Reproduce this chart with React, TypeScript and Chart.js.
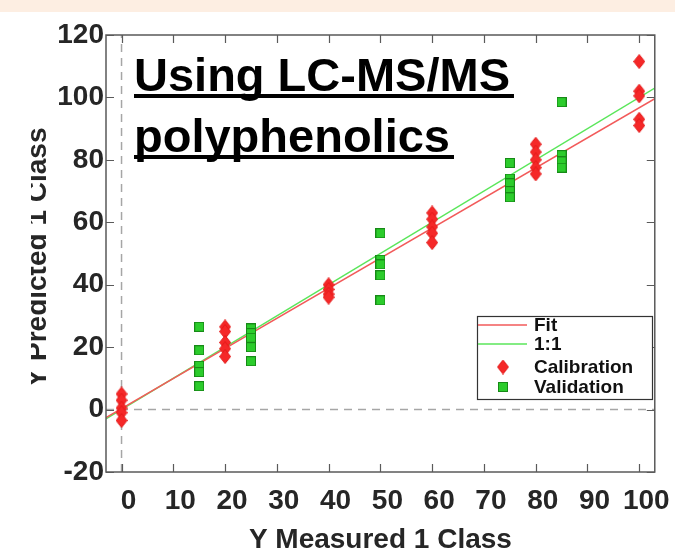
import React, { useEffect, useRef } from "react";
import { Chart, registerables } from "chart.js";
Chart.register(...registerables);

const xTickValues = [0, 10, 20, 30, 40, 50, 60, 70, 80, 90, 100];
const yTickValues = [-20, 0, 20, 40, 60, 80, 100, 120];

const calibrationX = [0, 0, 0, 0, 0, 20, 20, 20, 20, 20, 40, 40, 40, 40, 60, 60, 60, 60, 60, 80, 80, 80, 80, 80, 100, 100, 100, 100, 100];
const calibrationY = [5, 3, 0.5, -1, -3.5, 26.5, 25, 21.5, 19.5, 17, 40, 38.5, 37, 36, 63, 61, 58.5, 56.5, 53.5, 85, 82.5, 80, 77.5, 75.5, 111.5, 102, 100.5, 93, 91];

const validationX = [15, 15, 15, 15, 15, 25, 25, 25, 25, 25, 50, 50, 50, 50, 50, 75, 75, 75, 75, 75, 85, 85, 85, 85];
const validationY = [26.5, 19, 14, 12, 7.5, 26, 24.5, 23, 20, 15.5, 56.5, 48, 46.5, 43, 35, 79, 74, 72.5, 70, 68, 98.5, 81.5, 79.5, 77.5];

const fitX = [-3, 103];
const fitY = [-2.6, 99.6];
const unityX = [-3, 103];
const unityY = [-3, 103];

const zeroVX = [0, 0];
const zeroVY = [-20, 120];
const zeroHX = [-3, 103];
const zeroHY = [0, 0];

const legendLabels = ["Fit", "1:1", "Calibration", "Validation"];
const titleLines = ["Using LC-MS/MS", "polyphenolics"];
const xTitle = "Y Measured 1 Class";
const yTitle = "Y Predicted 1 Class";

const FONT = '"Liberation Sans", Arial, sans-serif';
const RED_LINE = "#f25a5a";
const GREEN_LINE = "#5ae65a";

function pts(xs: number[], ys: number[]) {
  return xs.map((x, i) => ({ x, y: ys[i] }));
}

function makeDiamond() {
  const c = document.createElement("canvas");
  c.width = 12;
  c.height = 15;
  const g = c.getContext("2d")!;
  g.beginPath();
  g.moveTo(6, 0.5);
  g.lineTo(11.5, 7.5);
  g.lineTo(6, 14.5);
  g.lineTo(0.5, 7.5);
  g.closePath();
  g.fillStyle = "#f52828";
  g.fill();
  g.strokeStyle = "#e41a1a";
  g.lineWidth = 1;
  g.stroke();
  return c;
}

function makeSquare() {
  const c = document.createElement("canvas");
  c.width = 10;
  c.height = 10;
  const g = c.getContext("2d")!;
  g.fillStyle = "#2ccc2c";
  g.fillRect(0.5, 0.5, 9, 9);
  g.strokeStyle = "#178a17";
  g.lineWidth = 1;
  g.strokeRect(0.5, 0.5, 9, 9);
  return c;
}

export default function App() {
  const ref = useRef<HTMLCanvasElement>(null);

  useEffect(() => {
    document.body.style.margin = "0";
    document.body.style.overflow = "hidden";
    const canvas = ref.current!;
    const diamond = makeDiamond();
    const square = makeSquare();

    const deco = {
      id: "deco",
      beforeDraw(chart: any) {
        const ctx = chart.ctx;
        ctx.save();
        ctx.fillStyle = "#ffffff";
        ctx.fillRect(0, 0, chart.width, chart.height);
        ctx.fillStyle = "#fdeee2";
        ctx.fillRect(0, 0, chart.width, 12);
        ctx.restore();
      },
      afterDraw(chart: any) {
        const ctx = chart.ctx;
        const { left, right, top, bottom } = chart.chartArea;
        const xs = chart.scales.x;
        const ys = chart.scales.y;
        ctx.save();
        // frame
        ctx.strokeStyle = "#5a5a5a";
        ctx.lineWidth = 1.5;
        ctx.strokeRect(left, top, right - left, bottom - top);
        // inward ticks
        const tl = 8;
        ctx.beginPath();
        xTickValues.forEach((v) => {
          const px = Math.round(xs.getPixelForValue(v)) + 0.5;
          ctx.moveTo(px, bottom);
          ctx.lineTo(px, bottom - tl);
          ctx.moveTo(px, top);
          ctx.lineTo(px, top + tl);
        });
        yTickValues.forEach((v) => {
          const py = Math.round(ys.getPixelForValue(v)) + 0.5;
          ctx.moveTo(left, py);
          ctx.lineTo(left + tl, py);
          ctx.moveTo(right, py);
          ctx.lineTo(right - tl, py);
        });
        ctx.lineWidth = 1.2;
        ctx.stroke();

        // title block
        ctx.fillStyle = "#000000";
        ctx.font = `bold 47px ${FONT}`;
        ctx.textAlign = "left";
        ctx.textBaseline = "alphabetic";
        const tx = 134;
        const baselines = [91, 152];
        titleLines.forEach((t, i) => {
          ctx.fillText(t, tx, baselines[i]);
          const w = ctx.measureText(t).width;
          ctx.fillRect(tx, baselines[i] + 3, w + 4, 4);
        });

        // axis titles
        ctx.fillStyle = "#262626";
        ctx.font = `bold 28px ${FONT}`;
        ctx.textAlign = "center";
        ctx.fillText(xTitle, (left + right) / 2, 548);
        ctx.save();
        ctx.beginPath();
        ctx.rect(31, 13, 60, 535);
        ctx.clip();
        ctx.translate(46, (top + bottom) / 2 + 4);
        ctx.rotate(-Math.PI / 2);
        ctx.fillText(yTitle, 0, 0);
        ctx.restore();

        // legend
        const lx = 477, ly = 316, lw = 175, lh = 83;
        ctx.fillStyle = "#ffffff";
        ctx.fillRect(lx, ly, lw, lh);
        ctx.strokeStyle = "#333333";
        ctx.lineWidth = 1.2;
        ctx.strokeRect(lx + 0.5, ly + 0.5, lw, lh);
        const rows = [325, 344, 367, 387];
        ctx.lineWidth = 1.5;
        ctx.strokeStyle = RED_LINE;
        ctx.beginPath();
        ctx.moveTo(lx + 1, rows[0]);
        ctx.lineTo(527, rows[0]);
        ctx.stroke();
        ctx.strokeStyle = GREEN_LINE;
        ctx.beginPath();
        ctx.moveTo(lx + 1, rows[1]);
        ctx.lineTo(527, rows[1]);
        ctx.stroke();
        ctx.drawImage(diamond, 503 - 6, rows[2] - 7.5);
        ctx.drawImage(square, 503 - 5, rows[3] - 5);
        ctx.fillStyle = "#111111";
        ctx.font = `bold 19px ${FONT}`;
        ctx.textAlign = "left";
        ctx.textBaseline = "middle";
        legendLabels.forEach((t, i) => ctx.fillText(t, 534, rows[i] + 1));
        ctx.restore();
      },
    };

    const tickFont = { family: FONT, size: 28, weight: "bold" as const };

    const chart = new Chart(canvas, {
      type: "scatter",
      data: {
        datasets: [
          {
            label: "Calibration",
            data: pts(calibrationX, calibrationY),
            pointStyle: diamond as any,
            pointRadius: 6,
            order: 1,
          },
          {
            label: "Validation",
            data: pts(validationX, validationY),
            pointStyle: square as any,
            pointRadius: 5,
            order: 0,
          },
          {
            label: "1:1",
            data: pts(unityX, unityY),
            showLine: true,
            borderColor: GREEN_LINE,
            borderWidth: 1.5,
            pointRadius: 0,
            order: 3,
          },
          {
            label: "Fit",
            data: pts(fitX, fitY),
            showLine: true,
            borderColor: RED_LINE,
            borderWidth: 1.5,
            pointRadius: 0,
            order: 2,
          },
          {
            label: "zeroV",
            data: pts(zeroVX, zeroVY),
            showLine: true,
            borderColor: "#a6a6a6",
            borderDash: [8, 6],
            borderWidth: 1.5,
            pointRadius: 0,
            order: 5,
          },
          {
            label: "zeroH",
            data: pts(zeroHX, zeroHY),
            showLine: true,
            borderColor: "#a6a6a6",
            borderDash: [8, 6],
            borderWidth: 1.5,
            pointRadius: 0,
            order: 5,
          },
        ],
      },
      plugins: [deco],
      options: {
        responsive: false,
        animation: false,
        devicePixelRatio: 1,
        layout: { padding: { top: 35, right: 14, left: 0, bottom: 0 } },
        plugins: {
          legend: { display: false },
          tooltip: { enabled: false },
        },
        scales: {
          x: {
            type: "linear",
            min: -3,
            max: 103,
            grid: { display: false, drawTicks: false },
            border: { display: false },
            afterBuildTicks: (s: any) => {
              s.ticks = xTickValues.map((v) => ({ value: v }));
            },
            afterFit: (s: any) => {
              s.height = 76;
            },
            ticks: {
              font: tickFont,
              color: "#262626",
              padding: 12,
              labelOffset: 7,
              maxRotation: 0,
              autoSkip: false,
              callback: (v: any) => String(v),
            },
          },
          y: {
            type: "linear",
            min: -20,
            max: 120,
            grid: { display: false, drawTicks: false },
            border: { display: false },
            afterBuildTicks: (s: any) => {
              s.ticks = yTickValues.map((v) => ({ value: v }));
            },
            afterFit: (s: any) => {
              s.width = 106;
            },
            ticks: {
              font: tickFont,
              color: "#262626",
              padding: 2,
              autoSkip: false,
              callback: (v: any) => String(v),
            },
          },
        },
      },
    });
    return () => chart.destroy();
  }, []);

  return (
    <canvas
      ref={ref}
      width={675}
      height={548}
      style={{ display: "block", width: 675, height: 548 }}
    />
  );
}
